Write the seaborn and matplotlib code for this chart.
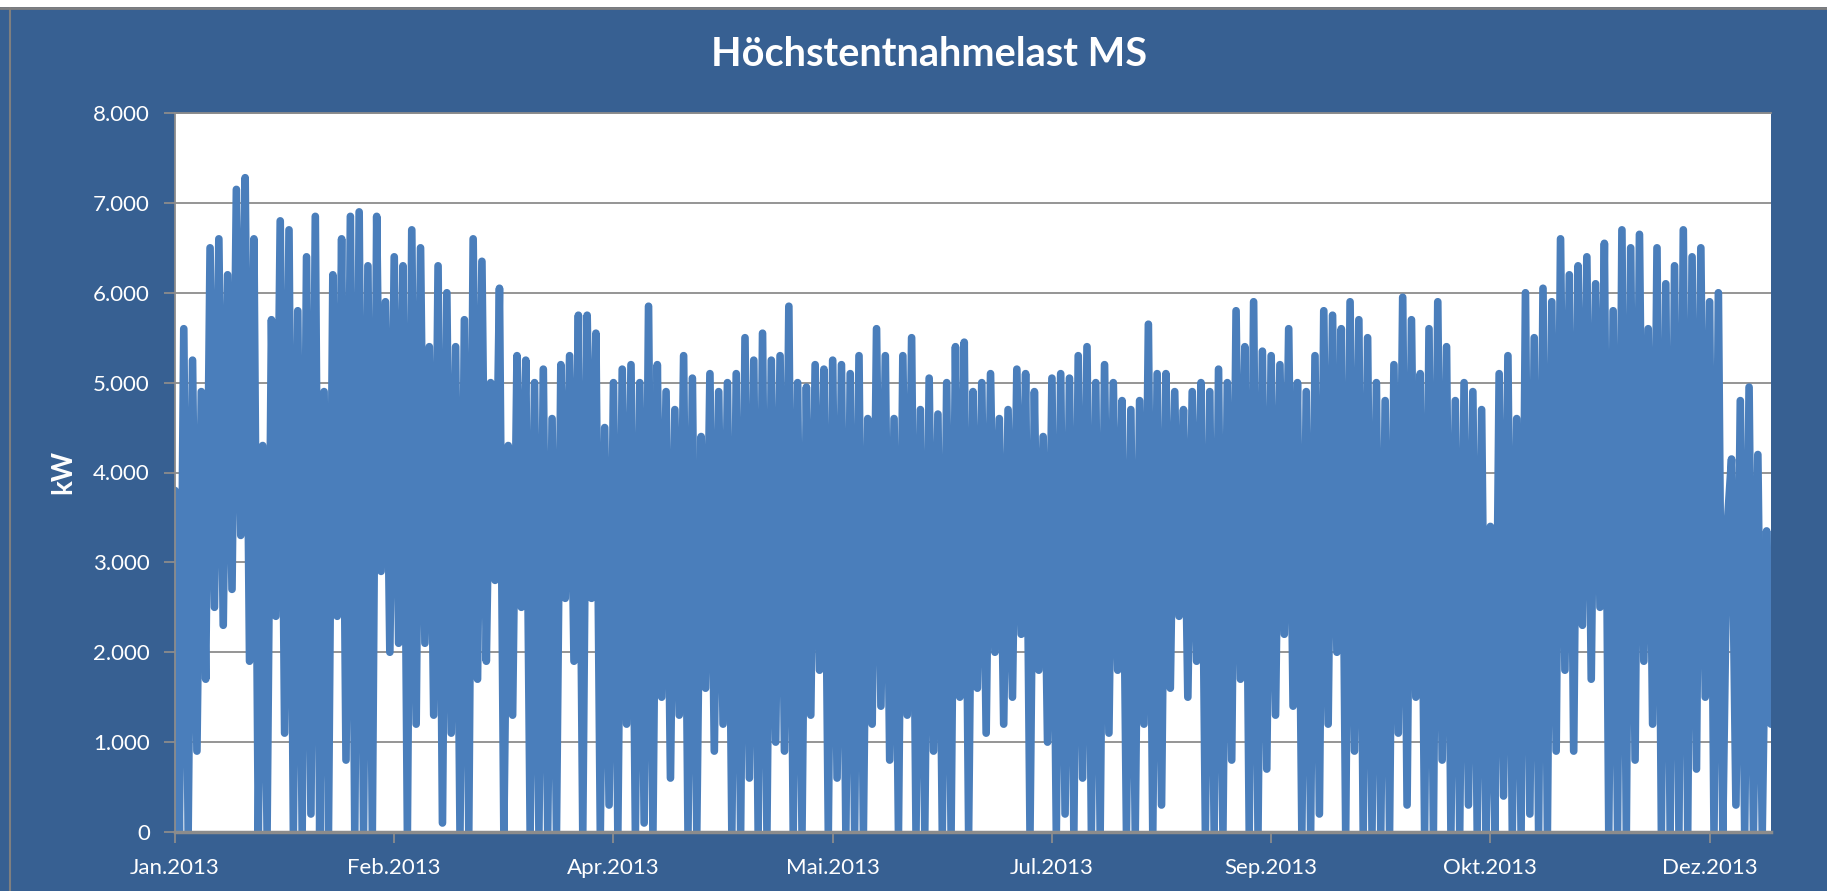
import pandas as pd
import matplotlib
matplotlib.use('Agg')
import matplotlib.pyplot as plt
import seaborn as sns
from matplotlib.patches import Rectangle
from matplotlib.lines import Line2D

# Tageswerte Höchstentnahmelast MS 2013 (kW)
seg01 = [3800, 0, 5600, 0, 5250, 900, 4900, 1700, 6500, 2500, 6600, 2300, 6200, 2700,
         7150, 3300, 7280, 1900, 6600, 0, 4300, 0, 5700, 2400, 6800, 1100, 6700, 0,
         5800, 0, 6400, 200, 6850, 0, 4900, 0]
seg02 = [6200, 2400, 6600, 800, 6850, 0, 6900, 0, 6300, 0, 6850, 2900, 5900, 2000,
         6400, 2100, 6300, 0, 6700, 1200, 6500, 2100, 5400, 1300, 6300, 100, 6000, 1100,
         5400, 0, 5700, 0, 6600, 1700, 6350, 1900, 5000, 2800]
seg03 = [6050, 0, 4300, 1300, 5300, 2500, 5250, 0, 5000, 0, 5150, 0, 4600, 0,
         5200, 2600, 5300, 1900, 5750, 0, 5750, 2600, 5550, 0, 4500, 300, 5000, 0,
         5150, 1200, 5200, 0, 5000, 100, 5850, 0]
seg04 = [5200, 1500, 4900, 600, 4700, 1300, 5300, 0, 5050, 0, 4400, 1600, 5100, 900,
         4900, 1200, 5000, 0, 5100, 0, 5500, 600, 5250, 0, 5550, 0, 5250, 1000,
         5300, 900, 5850, 0, 5000, 0, 4950, 1300]
seg05 = [5200, 1800, 5150, 0, 5250, 600, 5200, 0, 5100, 0, 5300, 0, 4600, 1200,
         5600, 1400, 5300, 800, 4600, 0, 5300, 1300, 5500, 0, 4700, 0, 5050, 900,
         4650, 0, 5000, 0, 5400, 1500, 5450, 0]
seg06 = [4900, 1600, 5000, 1100, 5100, 2000, 4600, 1200, 4700, 1500, 5150, 2200, 5100, 0,
         4900, 1800, 4400, 1000, 5050, 0, 5100, 200, 5050, 0, 5300, 600, 5400, 0,
         5000, 0, 5200, 1100, 5000, 1800, 4800, 0, 4700, 0]
seg07 = [4800, 1200, 5650, 0, 5100, 300, 5100, 1600, 4900, 2400, 4700, 1500, 4900, 1900,
         5000, 0, 4900, 0, 5150, 0, 5000, 800, 5800, 1700, 5400, 0, 5900, 0,
         5350, 700, 5300, 1300, 5200, 2200, 5600, 1400]
seg08 = [5000, 0, 4900, 0, 5300, 200, 5800, 1200, 5750, 2000, 5600, 0, 5900, 900,
         5700, 0, 5500, 0, 5000, 0, 4800, 0, 5200, 1100, 5950, 300, 5700, 1500,
         5100, 0, 5600, 0, 5900, 800, 5400, 0]
seg09 = [4800, 0, 5000, 300, 4900, 0, 4700, 0, 3400, 0, 5100, 400, 5300, 0,
         4600, 0, 6000, 200, 5500, 0, 6050, 0, 5900, 900, 6600, 1800, 6200, 900,
         6300, 2300, 6400, 1700, 6100, 2500, 6550, 0, 5800, 0]
seg10 = [6700, 0, 6500, 800, 6650, 1900, 5600, 1200, 6500, 0, 6100, 0, 6300, 0,
         6700, 0, 6400, 700, 6500, 1500, 5900, 0, 6000, 0, 3400, 4150, 300,
         4800, 0, 4950, 0, 4200, 0, 3350, 1200]

load_kw = seg01 + seg02 + seg03 + seg04 + seg05 + seg06 + seg07 + seg08 + seg09 + seg10

monate = ['Jan', 'Feb', 'Mär', 'Apr', 'Mai', 'Jun', 'Jul', 'Aug', 'Sep', 'Okt', 'Nov', 'Dez']
label_step = 50  # Excel beschriftet jeden 50. Tag
y_ticks = [0, 1000, 2000, 3000, 4000, 5000, 6000, 7000, 8000]

df = pd.DataFrame({
    'Datum': pd.date_range('2013-01-01', periods=len(load_kw), freq='D'),
    'kW': load_kw,
})

sns.set_theme(style='white')
plt.rcParams['font.family'] = ['Lato', 'DejaVu Sans']

bg = '#376092'
grau = '#8c8c8c'
W, H = 1827, 891

fig = plt.figure(figsize=(W / 100, H / 100), dpi=100, facecolor=bg)
# weisser Rand oben + graue Rahmenlinien des Diagrammbereichs
fig.patches.append(Rectangle((0, 1 - 7 / H), 1, 7 / H, transform=fig.transFigure,
                             facecolor='white', edgecolor='none'))
fig.lines.append(Line2D([0, 1], [1 - 8 / H, 1 - 8 / H], transform=fig.transFigure,
                        color='#7f7f7f', lw=2))
fig.lines.append(Line2D([10 / W, 10 / W], [0, 1 - 8 / H], transform=fig.transFigure,
                        color='#7f7f7f', lw=1.5))

ax = fig.add_axes([175 / W, 1 - 832 / H, (1771 - 175) / W, (832 - 113) / H])
ax.set_facecolor('white')
sns.lineplot(data=df, x='Datum', y='kW', ax=ax, color='#4a7ebb', lw=5.5,
             solid_joinstyle='round', solid_capstyle='round')

ax.set_xlim(df['Datum'].iloc[0], df['Datum'].iloc[-1])
ax.set_ylim(0, 8000)

tick_dates = df['Datum'].iloc[::label_step]
ax.set_xticks(tick_dates)
ax.set_xticklabels([f"{monate[d.month - 1]}.{d.year}" for d in tick_dates])
ax.set_yticks(y_ticks)
ax.set_yticklabels([f"{v:,}".replace(',', '.') for v in y_ticks])

ax.set_axisbelow(True)
ax.yaxis.grid(True, color=grau, lw=1.3)
ax.xaxis.grid(False)
for side in ['left', 'bottom', 'top']:
    ax.spines[side].set_color(grau)
    ax.spines[side].set_linewidth(1.3)
ax.spines['bottom'].set_linewidth(2.5)
ax.spines['right'].set_visible(False)

ax.tick_params(axis='both', colors=grau, labelcolor='white', labelsize=16,
               direction='out', length=8, width=1.3)
ax.tick_params(axis='y', pad=10, left=True)
ax.tick_params(axis='x', pad=11, bottom=True)

ax.set_xlabel('')
ax.set_ylabel('kW', color='white', fontsize=20, fontweight='bold')
ax.yaxis.set_label_coords(-0.062, 0.5)

fig.text(929 / W, 1 - 55 / H, 'Höchstentnahmelast MS', color='white',
         fontsize=28.5, fontweight='bold', ha='center', va='center')

fig.savefig('out.png', dpi=100, facecolor=fig.get_facecolor())
